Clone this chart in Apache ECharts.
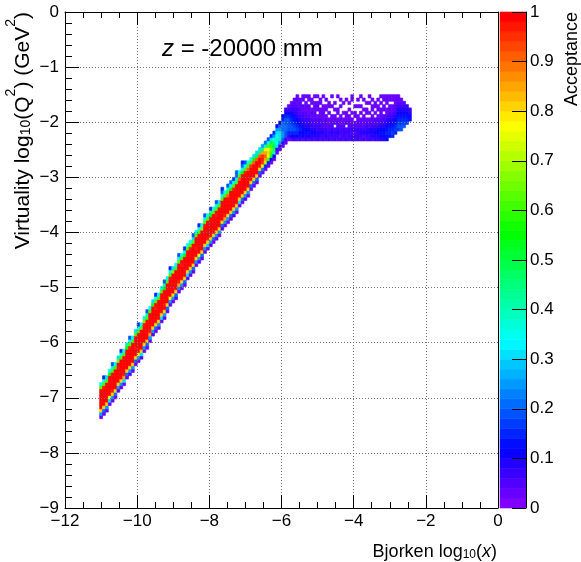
<!DOCTYPE html>
<html><head><meta charset="utf-8">
<script src="https://cdn.jsdelivr.net/npm/echarts/dist/echarts.min.js"></script>
<style>html,body{margin:0;padding:0;background:#fff}#c{width:581px;height:562px}</style>
</head><body><div id="c"></div>
<script>
// ---- histogram binning ----
const xBinStart = -11.04;
const xBinWidth = 0.08;
const yBinWidth = 0.06;

// lowest y-bin index of each x column
const colBottom = [
  -123,-122,-121,-119,-118,-117,-115,-114,-113,-111,
  -110,-109,-107,-106,-105,-103,-102,-100,-98,-97,
  -96,-94,-93,-91,-89,-88,-87,-85,-84,-83,
  -81,-80,-79,-77,-76,-75,-73,-72,-71,-70,
  -69,-68,-66,-65,-64,
  -63,-62,-61,-59,-58,-57,
  -56,-54,-53,-52,-50,-49,-48,-47,-46,-45,-43,-42,-41,-40,-39,-39,-39,-39,
  -39,-39,-39,-39,-39,-39,-39,-39,-39,-39,
  -39,-39,-39,-39,-39,-39,-39,-39,-39,-39,
  -39,-39,-39,-39,-39,-39,-39,-39,-39,-39,
  -39,
  -38,-38,-37,-36,-36,-35,-34,-33
];

// acceptance codes of each column, bottom -> top ('.' = empty bin)
const colCells = [
  "1fqvvvvvvmh","1eqvvvvvumh7","2fqvvvvvvmg","1gpvvvvvvlh","1fquvvvvvmh9",
  "1eqvvvvvvmh","2fqvvvvuvng","1fqvvvvvvmh7","1gruvvvvvmh","1eqvvvvvvli",
  "2fqvvvvvumh9","1fqvvvvvvmh","1eqvvuvvvmg","1fpvvvvvvmh7","2gqvvvvvvmh",
  "1fqvvvvvunh","1eqvvvvvvmi9","1fruvvvvvmh","2fqvvvvvvlg","1eqvvvvuvmh7",
  "1fqvvvvvvmh","1gqvvvvvvmh","2fqvuvvvvli9","1eqvvvvvvmh","1fpvvvvvumh7",
  "1fqvvvvvvng","2eqvvvvvvmh","1fruvvvvvmh9","1fqvvvvuvmh","1eqvvvvvvlh7",
  "2gqvvvvvvmh","1fqvvvvvumh","1eqvvvvvvmg9","1fqvvuvvvmh","2fpvvvvvvmh7",
  "1eqvvvvvvnh","1fqvvvvvumh9","1gquvvvvvmh","2fqvvvvvvli7","1eqvvvvvvmh",
  "1fqvvvvuvmh9","1fqvvvvvvmg","2eqvvvvvvmhe7","1fruvvvvvmh","1fqvvvvvsmh9",
  "1eqvvvvvvlhe","2fqvvvvvumh7","1fqvvvvvvmhe9","1gqvvvvvsmh","1eqvvvvvvlhe7",
  "2fqvvvvvumh9",
  "1fqvvvvvsmh","1eqvvvvtmh","1eqvvvvslg","1eqvvvvskg","1equvvsjg",
  "1eptutrjf","17orsrpie","17mpqpmh9","15kmnmkg7","15ijkjhf7",
  "13ghihgf5","13fgggfe5","13effeee75","1399ee99753","13799997531",
  "257998765321","3579876543221","25787654332121",
  "3657654322121.","25565433212.11","346543322111.1","25454332112.11","3454332121.11.",
  "245432212111.1","34433221.121.1","2343322111.11.","33432211211..1","24332221.11.1.",
  "3332211.1.11..","23432211..1..1","3332.211.1.1..","2343221.11...1","32322111..1.1.",
  "2333211.1..1..","3232.2111...1.","23332211.1.1..","3323211.1...11","232321.11.1...",
  "33332211..1.1.","2343221.1.1..1","32432111.1..1.","2343321.11.1..","3344221.1..1.1",
  "24443211.11.1.","3454322.1.11..","34553221.11.1.","4565432111.1.1","45654322.11.11",
  "5676543211.111",
  "6776543221.11","7876543211.11","787654322111","89876543211","9987654321",
  "98765432","876543","6543"
];

// acceptance value of each code
const LEVELS = {
  '0':0.01,'1':0.03,'2':0.05,'3':0.07,'4':0.09,'5':0.11,'6':0.13,'7':0.15,'8':0.17,'9':0.19,
  'e':0.20,'f':0.25,'g':0.30,'h':0.35,'i':0.40,'j':0.45,'k':0.50,'l':0.55,'m':0.60,'n':0.65,
  'o':0.70,'p':0.75,'q':0.80,'r':0.85,'s':0.90,'t':0.95,'u':0.97,'v':1.00
};

const histData = [];
colCells.forEach((s, i) => {
  for (let j = 0; j < s.length; j++) {
    const ch = s[j];
    if (ch === '.') continue;
    histData.push([xBinStart + i * xBinWidth, (colBottom[i] + j) * yBinWidth, LEVELS[ch]]);
  }
});

// ---- palette (ROOT-like violet -> red, 50 steps) ----
const nColors = 50;
function hsv(h) {
  const x = 1 - Math.abs((h / 60) % 2 - 1);
  let r, g, b;
  if (h < 60) { r = 1; g = x; b = 0; }
  else if (h < 120) { r = x; g = 1; b = 0; }
  else if (h < 180) { r = 0; g = 1; b = x; }
  else if (h < 240) { r = 0; g = x; b = 1; }
  else { r = x; g = 0; b = 1; }
  return 'rgb(' + Math.round(r * 255) + ',' + Math.round(g * 255) + ',' + Math.round(b * 255) + ')';
}
const pieces = [];
for (let i = 0; i < nColors; i++) {
  const p = { gte: i / nColors, color: hsv(270 * (1 - i / (nColors - 1))) };
  if (i === nColors - 1) p.lte = 1; else p.lt = (i + 1) / nColors;
  pieces.push(p);
}
const barData = [];
for (let i = 0; i < nColors; i++) barData.push([0, i / nColors, (i + 0.5) / nColors]);

const FONT = '"Liberation Sans", Arial, Helvetica, sans-serif';
const minus = v => (v < 0 ? '\u2212' + Math.abs(v) : String(v));

function cellRender(w, h) {
  return function (params, api) {
    const x0 = api.value(0), y0 = api.value(1);
    const p0 = api.coord([x0, y0]);
    const p1 = api.coord([x0 + w, y0 + h]);
    const c = api.visual('color');
    return {
      type: 'rect',
      shape: { x: p0[0], y: p1[1], width: p1[0] - p0[0], height: p0[1] - p1[1] },
      style: { fill: c, stroke: c, lineWidth: 0.6 }
    };
  };
}

const chart = echarts.init(document.getElementById('c'), null, { renderer: 'canvas' });
const axisCommon = {
  type: 'value',
  axisLine: { show: true, onZero: false, lineStyle: { color: '#000', width: 1 } },
  splitLine: { show: false },
  axisLabel: { color: '#000', fontSize: 17, fontFamily: FONT }
};
chart.setOption({
  animation: false,
  backgroundColor: '#fff',
  grid: [
    { left: 65, right: 83, top: 12, bottom: 54, containLabel: false, outerBoundsMode: 'none' },
    { left: 500, width: 26, top: 12, bottom: 54, containLabel: false, outerBoundsMode: 'none' }
  ],
  xAxis: [
    Object.assign({}, axisCommon, {
      gridIndex: 0, position: 'bottom', min: -12, max: 0, interval: 2, z: 10,
      axisTick: { show: true, inside: true, length: 13, lineStyle: { color: '#000' } },
      minorTick: { show: true, splitNumber: 4, length: 6, lineStyle: { color: '#000' } },
      splitLine: { show: true, lineStyle: { color: '#777', type: [1, 2], width: 1 } },
      axisLabel: { color: '#000', fontSize: 17, fontFamily: FONT, margin: 5, formatter: minus }
    }),
    Object.assign({}, axisCommon, {
      gridIndex: 0, position: 'top', min: -12, max: 0, interval: 2, z: 10,
      axisTick: { show: true, inside: true, length: 13, lineStyle: { color: '#000' } },
      minorTick: { show: true, splitNumber: 4, length: 6, lineStyle: { color: '#000' } },
      axisLabel: { show: false }
    }),
    { type: 'value', gridIndex: 1, min: 0, max: 1, show: false }
  ],
  yAxis: [
    Object.assign({}, axisCommon, {
      gridIndex: 0, position: 'left', min: -9, max: 0, interval: 1, z: 10,
      axisTick: { show: true, inside: true, length: 14, lineStyle: { color: '#000' } },
      minorTick: { show: true, splitNumber: 5, length: 7, lineStyle: { color: '#000' } },
      splitLine: { show: true, lineStyle: { color: '#777', type: [1, 2], width: 1 } },
      axisLabel: { color: '#000', fontSize: 17, fontFamily: FONT, margin: 6, formatter: minus }
    }),
    Object.assign({}, axisCommon, {
      gridIndex: 0, position: 'right', min: -9, max: 0, z: 10,
      axisTick: { show: false }, axisLabel: { show: false }
    }),
    Object.assign({}, axisCommon, {
      gridIndex: 1, position: 'right', min: 0, max: 1, interval: 0.1, z: 10,
      axisTick: { show: true, inside: true, length: 14, lineStyle: { color: '#000' } },
      axisLabel: { color: '#000', fontSize: 17, fontFamily: FONT, margin: 4,
        formatter: v => String(parseFloat(v.toFixed(1))) }
    })
  ],
  visualMap: {
    type: 'piecewise', show: false, dimension: 2, seriesIndex: [0, 1], pieces: pieces
  },
  series: [
    {
      type: 'custom', xAxisIndex: 0, yAxisIndex: 0, data: histData,
      encode: { x: 0, y: 1 }, renderItem: cellRender(xBinWidth, yBinWidth), z: 2, silent: true
    },
    {
      type: 'custom', xAxisIndex: 2, yAxisIndex: 2, data: barData,
      encode: { x: 0, y: 1 }, renderItem: cellRender(1, 1 / nColors), z: 2, silent: true
    }
  ],
  graphic: [
    {
      type: 'text', left: 162, top: 37, z: 20,
      style: {
        text: '{it|z} = -20000 mm', font: '24px ' + FONT, fill: '#000',
        rich: { it: { fontStyle: 'italic', fontSize: 24, fontFamily: FONT, fill: '#000' } }
      }
    },
    {
      type: 'text', x: 497, y: 548, z: 20,
      style: {
        text: '{n|Bjorken log}{s|10}{n|(}{i|x}{n|)}', align: 'right', verticalAlign: 'middle',
        rich: {
          n: { fontSize: 18, fontFamily: FONT, lineHeight: 26, verticalAlign: 'bottom', fill: '#000' },
          i: { fontSize: 18, fontFamily: FONT, fontStyle: 'italic', lineHeight: 26, verticalAlign: 'bottom', fill: '#000' },
          s: { fontSize: 12, fontFamily: FONT, lineHeight: 13, verticalAlign: 'bottom', fill: '#000' }
        }
      }
    },
    {
      type: 'text', x: 19, y: 12, rotation: Math.PI / 2, z: 20,
      style: {
        text: '{n|Virtuality log}{s|10}{n|(Q}{p|2}{n|) (GeV}{p|2}{n|)}', align: 'right', verticalAlign: 'middle',
        rich: {
          n: { fontSize: 21, fontFamily: FONT, lineHeight: 29, verticalAlign: 'bottom', fill: '#000' },
          s: { fontSize: 14, fontFamily: FONT, lineHeight: 15, verticalAlign: 'bottom', fill: '#000' },
          p: { fontSize: 14, fontFamily: FONT, lineHeight: 15, verticalAlign: 'top', fill: '#000' }
        }
      }
    },
    {
      type: 'text', x: 572, y: 12, rotation: Math.PI / 2, z: 20,
      style: { text: 'Acceptance', align: 'right', verticalAlign: 'middle', font: '18px ' + FONT, fill: '#000' }
    }
  ]
});
</script></body></html>
